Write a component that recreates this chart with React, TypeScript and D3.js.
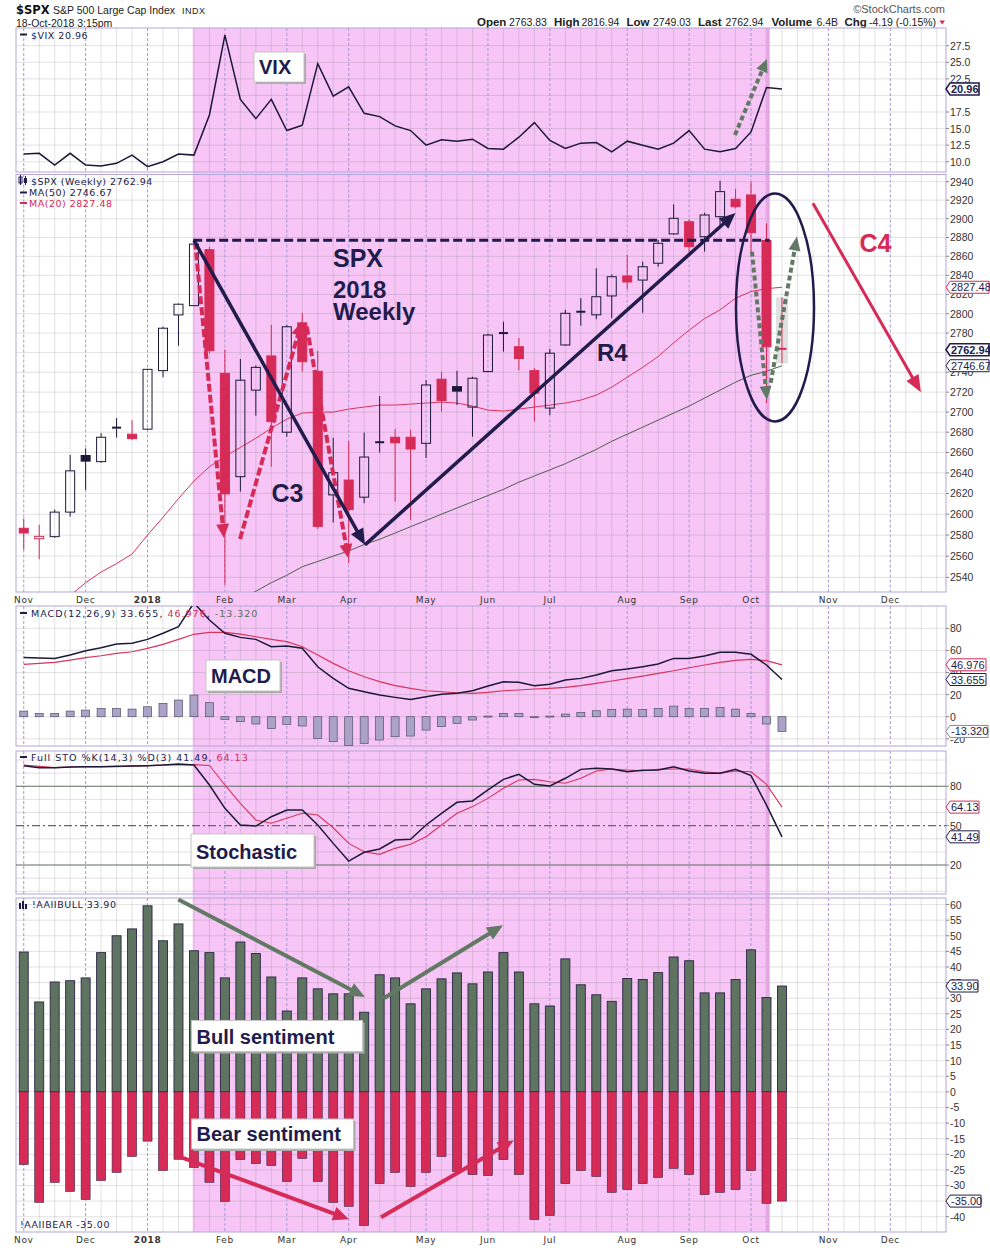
import React from 'react';
import * as d3 from 'd3';

// Weekly bars, week of Nov 6 2017 through week of Oct 15 2018 (50 weeks)
const spxOpen = [2586.5, 2576.5, 2578.5, 2602, 2657, 2651, 2684.5, 2678, 2683, 2741.7, 2798.7, 2808.3, 2867, 2739, 2636.3, 2722, 2756.6, 2680, 2790.5, 2741, 2618.6, 2633, 2616.4, 2669.5, 2675, 2675, 2669, 2733, 2725.5, 2705, 2740.7, 2780, 2766, 2741.7, 2704, 2767.8, 2802, 2798.8, 2818.4, 2839.3, 2835, 2852.7, 2883.8, 2896.8, 2880.8, 2902.2, 2921, 2925.6, 2876.8, 2763.83];
const spxHigh = [2596, 2590, 2604.5, 2657.6, 2664, 2679, 2694, 2692, 2743.5, 2786.6, 2810.5, 2873, 2870, 2763, 2753.5, 2747, 2788.5, 2788.5, 2801, 2761.8, 2674.5, 2671, 2679.5, 2716, 2683, 2682.6, 2732, 2740.7, 2741.4, 2735.5, 2779.5, 2791.8, 2775, 2744.4, 2763.8, 2804, 2816, 2847.4, 2841, 2861.4, 2854.4, 2877.3, 2915.5, 2899.5, 2906.4, 2940.8, 2932, 2939.9, 2895, 2816.94];
const spxLow = [2566, 2557, 2577.5, 2597.7, 2623.5, 2650, 2674.6, 2672, 2682.5, 2735, 2767, 2808, 2759, 2533, 2621.8, 2696.4, 2646, 2675.6, 2740.7, 2585.9, 2592, 2553.3, 2610.6, 2660, 2612, 2594.4, 2654.6, 2700.4, 2707, 2675.6, 2740, 2761, 2742, 2690.5, 2697, 2767, 2787.7, 2794.3, 2795.3, 2825.4, 2801, 2849, 2883, 2864.9, 2865, 2893.3, 2911, 2863.8, 2709, 2749.03];
const spxClose = [2582, 2578.8, 2602, 2642, 2651.5, 2675, 2683.3, 2673.6, 2743, 2785, 2809.8, 2872.9, 2762, 2619.6, 2732, 2745, 2690.5, 2786.5, 2750.8, 2588.3, 2640.2, 2604.5, 2655.5, 2670.1, 2669.5, 2663.4, 2727.2, 2711.5, 2721, 2734, 2778, 2779, 2754, 2719, 2759.4, 2800.4, 2801, 2817.6, 2838.5, 2833, 2849, 2873.8, 2900.5, 2870.2, 2904, 2929.2, 2913, 2885, 2766, 2762.94];
const spxPrevClose = 2587.8;
const ma50 = [2420, 2427, 2434, 2441, 2448, 2455, 2462, 2469, 2476, 2483, 2490, 2497, 2505, 2512, 2519, 2527, 2535, 2542, 2550, 2555, 2560, 2565, 2571, 2576, 2582, 2588, 2594, 2600, 2606, 2612, 2618, 2624, 2631, 2637, 2643, 2649, 2656, 2663, 2671, 2678, 2685, 2692, 2699, 2706, 2714, 2722, 2730, 2737, 2741, 2746.67];
const ma20 = [2495, 2505, 2515, 2523, 2535, 2545, 2553, 2562, 2580, 2597, 2615, 2632, 2646, 2656, 2665, 2674, 2684, 2693, 2699, 2700, 2700, 2703, 2705, 2707, 2707, 2708, 2709, 2710, 2709, 2706, 2702, 2701, 2703, 2705, 2707, 2709, 2712, 2717, 2725, 2735, 2745, 2756, 2770, 2783, 2795, 2804, 2816, 2823, 2826, 2827.48];
const vix = [11.16, 11.27, 9.5, 11.27, 9.5, 9.35, 9.76, 11.0, 9.25, 10.0, 11.16, 11.0, 17.05, 29.1, 19.4, 16.5, 19.4, 14.7, 15.5, 24.8, 19.9, 21.3, 17.3, 16.8, 15.4, 14.7, 12.5, 13.3, 13.1, 13.4, 12.0, 11.9, 13.7, 15.9, 13.2, 12.0, 12.8, 12.9, 11.5, 13.1, 12.5, 11.9, 12.8, 14.7, 11.9, 11.5, 12.0, 14.5, 21.2, 20.96];
const macdLine = [53.7, 53.1, 52.8, 55.8, 59.7, 62.5, 65.8, 66.4, 70, 75.5, 81.4, 103, 87.5, 75.5, 71.8, 70, 63.4, 64, 61.9, 45.2, 34.7, 25.7, 22.6, 19.6, 17.5, 15.7, 18.1, 20.3, 21.2, 23.5, 27.8, 31.7, 31.1, 28.1, 29.3, 33.2, 34.7, 37.7, 41.6, 43.2, 45.2, 47.7, 52.8, 52.8, 54.9, 58.3, 58.3, 56.5, 46.8, 33.655];
const macdSignal = [47.4, 48.3, 49.2, 51.3, 53.4, 55.2, 57.4, 58.8, 61.9, 65.5, 70, 74.6, 76.4, 76.4, 74.8, 72.4, 70, 67.9, 63.3, 55.8, 48.3, 41.6, 36.2, 31.7, 28.1, 25.7, 23.5, 22.6, 21.7, 21.2, 22.1, 23.5, 24.2, 25.1, 25.7, 26.6, 28.1, 30.2, 32.3, 34.4, 36.8, 39.3, 41.6, 44.3, 46.8, 49.2, 51, 51.9, 50.7, 46.976];
const macdHist = [5.1, 3.0, 3.0, 5.1, 6.0, 7.5, 7.5, 6.9, 9.0, 12.1, 15.1, 19.6, 12.7, -2.4, -4.5, -6.6, -10.6, -6.9, -8.4, -19.6, -22.6, -26.2, -24.1, -21.1, -18.1, -17.5, -12.1, -9.0, -6.0, -3.0, 0.6, 3.0, 3.0, -0.6, 0.6, 2.4, 3.9, 5.4, 6.6, 6.9, 6.6, 7.5, 9.6, 7.5, 7.5, 8.4, 6.9, 3.0, -6.6, -13.32];
const stoK = [95.7, 94.2, 94.2, 94.7, 94.9, 94.9, 95.2, 95.4, 95.7, 96.2, 97, 96.2, 81, 63.2, 50.5, 49.7, 56.8, 61.9, 61.9, 50.5, 36.5, 23, 29.7, 32.2, 39, 39.6, 50.5, 59.4, 67.8, 68.8, 77.2, 85.3, 89.1, 81.5, 80.2, 86.1, 92.9, 93.7, 93.2, 91.1, 92.2, 92.4, 94.9, 91.7, 89.9, 89.9, 92.9, 88.1, 65.7, 41.49];
const stoD = [96.2, 95.2, 94.2, 94.7, 94.9, 94.9, 94.9, 95.4, 95.7, 96.2, 96.2, 96.5, 95.9, 81, 67, 54.3, 51.8, 55.6, 59.4, 58.1, 48.4, 36.5, 30.1, 28.1, 32.7, 35.8, 41.6, 50.5, 59.4, 64.5, 70.8, 78.5, 84.8, 85.3, 83.5, 82.3, 86.1, 91.7, 93.2, 92.4, 91.9, 92.9, 93.2, 93.2, 91.1, 89.9, 91.7, 91.1, 81.5, 64.13];
const aaiiBull = [44.8, 28.8, 35.2, 35.6, 36.5, 44.6, 50, 52.2, 59.6, 48.4, 53.8, 45.2, 44.6, 36.5, 48, 44.3, 36.8, 25.9, 36.5, 33, 31.4, 31.4, 25.5, 37.5, 36.5, 28.2, 33, 36.2, 38.1, 34.6, 38.4, 44.6, 38.4, 28.2, 27.5, 42.6, 34.3, 31.1, 29, 36.3, 36, 38.2, 43.2, 42, 31.7, 31.7, 36, 45.5, 30.2, 33.9];
const aaiiBear = [-23.3, -35.4, -29, -31.9, -34.5, -28.4, -25.8, -20.7, -15.8, -25.2, -21.6, -24.2, -29, -35.1, -21.7, -23, -23.6, -28.7, -21.3, -28.7, -35.4, -36.7, -42.8, -29.4, -25.8, -30.3, -25.8, -20.7, -25.5, -26.5, -26.8, -21.7, -26.5, -40.9, -39.6, -29.4, -25.2, -27.1, -32.2, -31.3, -29.4, -27.4, -24.5, -26.5, -32.9, -32.2, -31.3, -25.2, -35.7, -35];
const monthWeeks = [0, 4, 8, 13, 17, 21, 26, 30, 34, 39, 43, 47, 52, 56];
const monthLabels = ['Nov', 'Dec', '2018', 'Feb', 'Mar', 'Apr', 'May', 'Jun', 'Jul', 'Aug', 'Sep', 'Oct', 'Nov', 'Dec'];
const vixTicks = [10, 12.5, 15, 17.5, 20, 22.5, 25, 27.5];
const spxTicks = d3.range(2540, 2941, 20);
const macdTicks = [-20, 0, 20, 40, 60, 80];
const stoTicks = [20, 50, 80];
const aaiiTicks = d3.range(-40, 61, 5);

const SANS = '"Liberation Sans", Arial, sans-serif';
const LEG = '"DejaVu Sans", Verdana, sans-serif';
const NAVY = '#221c4c';
const CRIMSON = '#d62a57';
const PINK = '#f7c6f6';
const GREEN = '#5e7461';
const ARROWGREEN = '#627a64';
const FRAME = '#b3a6d8';
const GRID = 'rgba(110,110,110,0.2)';
const L = 16;
const R = 946;

const x = d3.scaleLinear().domain([-0.5, 59.6]).range([L, R]);
const weeks = d3.range(spxClose.length);

const P = {
  vix: { top: 28, bottom: 172, y: d3.scaleLinear().domain([8.45, 30.17]).range([172, 28]) },
  spx: { top: 174.5, bottom: 592, y: d3.scaleLog().domain([2526.3, 2947.8]).range([592, 174.5]) },
  macd: { top: 606, bottom: 746, y: d3.scaleLinear().domain([-26.5, 100.2]).range([746, 606]) },
  sto: { top: 751, bottom: 894, y: d3.scaleLinear().domain([-2.1, 106.9]).range([894, 751]) },
  aaii: { top: 898, bottom: 1232, y: d3.scaleLinear().domain([-44.9, 62.1]).range([1232, 898]) },
};

function Arrow({ x1, y1, x2, y2, color, w = 4, dash, head = 15, hw = 13 }: any) {
  const dx = x2 - x1, dy = y2 - y1, len = Math.hypot(dx, dy);
  const ux = dx / len, uy = dy / len;
  const bx = x2 - ux * head, by = y2 - uy * head;
  const px = (-uy * hw) / 2, py = (ux * hw) / 2;
  return (
    <g>
      <line x1={x1} y1={y1} x2={bx + ux * 2} y2={by + uy * 2} stroke={color} strokeWidth={w} strokeDasharray={dash} />
      <polygon points={`${x2},${y2} ${bx + px},${by + py} ${bx - px},${by - py}`} fill={color} />
    </g>
  );
}

function NoteBox({ x0, y0, w, h, text, size = 20 }: any) {
  return (
    <g>
      <rect x={x0 + 2} y={y0 + 2} width={w} height={h} fill="#a9a9a9" />
      <rect x={x0} y={y0} width={w} height={h} fill="#fff" stroke="#c4c4c4" />
      <text x={x0 + 5} y={y0 + h - 8} fontSize={size} fontWeight="bold" fill={NAVY} fontFamily={SANS}>{text}</text>
    </g>
  );
}

function Tag({ y, text, color, bold, w }: any) {
  const r = 950 + w;
  return (
    <g>
      <path d={`M946,${y} L950,${y - 6} L${r},${y - 6} L${r},${y + 6} L950,${y + 6} Z`} fill="#fff" stroke={color} strokeWidth={bold ? 1.6 : 1} />
      <text x={951} y={y + 4} fontSize={11} fontWeight={bold ? 'bold' : 'normal'} fill={NAVY} fontFamily={SANS}>{text}</text>
    </g>
  );
}

function Grid({ p, hTicks }: any) {
  return (
    <g>
      {d3.range(0, 60).filter((i) => !monthWeeks.includes(i)).map((i) => (
        <line key={'v' + i} x1={x(i)} x2={x(i)} y1={p.top} y2={p.bottom} stroke={GRID} />
      ))}
      {hTicks.map((t: number) => (
        <line key={'h' + t} x1={L} x2={R} y1={p.y(t)} y2={p.y(t)} stroke={GRID} />
      ))}
      {monthWeeks.map((i) => (
        <line key={'m' + i} x1={x(i)} x2={x(i)} y1={p.top} y2={p.bottom} stroke="#a997d4" strokeDasharray="3,2" />
      ))}
    </g>
  );
}

function Axis({ p, ticks, fmt }: any) {
  return (
    <g fontSize={10.5} fill="#333" fontFamily={SANS}>
      {ticks.map((t: number) => (
        <g key={t}>
          <line x1={R} x2={R + 3} y1={p.y(t)} y2={p.y(t)} stroke="#888" />
          <text x={950} y={p.y(t) + 4}>{fmt(t)}</text>
        </g>
      ))}
    </g>
  );
}

export default function App() {
  const lineOf = (p: any, arr: number[]) =>
    d3.line<number>().x((_, i) => x(i)).y((d) => p.y(d))(arr) as string;
  const sy = P.spx.y;
  const panelList = Object.entries(P);

  return (
    <svg width={990} height={1248} style={{ position: 'absolute', left: 0, top: 0, background: '#fff' }} fontFamily={SANS}>
      <defs>
        {panelList.map(([k, p]) => (
          <clipPath id={'c-' + k} key={k}>
            <rect x={L} y={p.top} width={R - L} height={p.bottom - p.top} />
          </clipPath>
        ))}
      </defs>

      {/* header */}
      <text x={16} y={13.5} fontSize={11.5} fontWeight="bold" fontFamily={LEG} fill="#111">$SPX</text>
      <text x={53} y={13.5} fontSize={11} fill="#222" textLength={122} lengthAdjust="spacingAndGlyphs">S&amp;P 500 Large Cap Index</text>
      <text x={182} y={13.5} fontSize={9} fill="#222" letterSpacing={0.5}>INDX</text>
      <text x={16} y={26.5} fontSize={10.5} fill="#222">18-Oct-2018 3:15pm</text>
      <text x={945} y={12.5} fontSize={11} fill="#555" textAnchor="end">©StockCharts.com</text>
      <g fontSize={10.5} fill="#222">
        <text x={477} y={26} fontWeight="bold" fontSize={11.5}>Open</text>
        <text x={509} y={26}>2763.83</text>
        <text x={554} y={26} fontWeight="bold" fontSize={11.5}>High</text>
        <text x={581.5} y={26}>2816.94</text>
        <text x={626.5} y={26} fontWeight="bold" fontSize={11.5}>Low</text>
        <text x={653} y={26}>2749.03</text>
        <text x={698} y={26} fontWeight="bold" fontSize={11.5}>Last</text>
        <text x={725.5} y={26}>2762.94</text>
        <text x={771.5} y={26} fontWeight="bold" fontSize={11.5}>Volume</text>
        <text x={816.5} y={26}>6.4B</text>
        <text x={844.5} y={26} fontWeight="bold" fontSize={11.5}>Chg</text>
        <text x={869} y={26}>-4.19 (-0.15%)</text>
      </g>
      <polygon points="939.5,20.5 945,20.5 942.2,24.5" fill={CRIMSON} />

      {/* panel backgrounds and pink campaign band */}
      {panelList.map(([k, p]) => (
        <rect key={k} x={L} y={p.top} width={R - L} height={p.bottom - p.top} fill="#fff" />
      ))}
      <rect x={x(10.92)} y={28} width={x(48.2) - x(10.92)} height={1232 - 28} fill={PINK} />

      <Grid p={P.vix} hTicks={vixTicks} />
      <Grid p={P.spx} hTicks={spxTicks} />
      <Grid p={P.macd} hTicks={macdTicks} />
      <Grid p={P.sto} hTicks={d3.range(0, 101, 10).filter((t) => !stoTicks.includes(t))} />
      <Grid p={P.aaii} hTicks={aaiiTicks} />
      <rect x={x(48.2) - 4} y={28} width={4} height={1232 - 28} fill="#e4a9e4" />

      {panelList.map(([k, p]) => (
        <rect key={'f' + k} x={L} y={p.top} width={R - L} height={p.bottom - p.top} fill="none" stroke={FRAME} />
      ))}

      {/* VIX */}
      <g clipPath="url(#c-vix)">
        <path d={lineOf(P.vix, vix)} fill="none" stroke="#1c1838" strokeWidth={1.5} />
      </g>
      <Axis p={P.vix} ticks={vixTicks.filter((t) => t !== 20)} fmt={(t: number) => t.toFixed(1)} />
      <line x1={20} x2={27} y1={34.5} y2={34.5} stroke={NAVY} strokeWidth={2} />
      <text x={31} y={38.5} fontSize={9.5} fontFamily={LEG} letterSpacing={0.5} fill={NAVY}>$VIX 20.96</text>
      <NoteBox x0={254} y0={52} w={50} h={30} text="VIX" />
      <Arrow x1={x(45.96)} y1={P.vix.y(14.03)} x2={x(48.03)} y2={P.vix.y(25.5)} color={ARROWGREEN} w={4} dash="5,3" head={13} hw={12} />
      <Tag y={P.vix.y(20.96)} text="20.96" color={NAVY} bold w={29} />

      {/* SPX */}
      <g clipPath="url(#c-spx)">
        <path d={lineOf(P.spx, ma50)} fill="none" stroke="#4f5f50" strokeWidth={1} />
        <path d={lineOf(P.spx, ma20)} fill="none" stroke="#d8345c" strokeWidth={1} />
        <rect x={x(49) - 6} y={sy(spxHigh[49])} width={12} height={sy(spxLow[49]) - sy(spxHigh[49])} fill="#e1e1e1" />
        {weeks.map((i) => {
          const o = spxOpen[i], c = spxClose[i];
          const prev = i === 0 ? spxPrevClose : spxClose[i - 1];
          const col = c < prev ? CRIMSON : '#1b1838';
          const filled = c < o;
          const yt = sy(Math.max(o, c)), yb = sy(Math.min(o, c));
          const cx = x(i);
          const bh = yb - yt;
          return (
            <g key={i}>
              <line x1={cx} x2={cx} y1={sy(spxHigh[i])} y2={yt} stroke={col} strokeWidth={1} />
              <line x1={cx} x2={cx} y1={yb} y2={sy(spxLow[i])} stroke={col} strokeWidth={1} />
              {bh < 1.5 ? (
                <line x1={cx - 4.5} x2={cx + 4.5} y1={yt} y2={yt} stroke={col} strokeWidth={2} />
              ) : (
                <rect x={cx - 4.5} y={yt} width={9} height={bh} fill={filled ? col : 'none'} stroke={col} strokeWidth={1} />
              )}
            </g>
          );
        })}
      </g>
      <Axis p={P.spx} ticks={spxTicks.filter((t) => t !== 2760)} fmt={(t: number) => String(t)} />
      <g fontFamily={LEG} fontSize={9.5} letterSpacing={0.5}>
        <rect x={19} y={177} width={3} height={6} fill="none" stroke={NAVY} />
        <line x1={20.5} x2={20.5} y1={175} y2={185} stroke={NAVY} />
        <rect x={24} y={178} width={3} height={5} fill={NAVY} />
        <line x1={25.5} x2={25.5} y1={176} y2={185} stroke={NAVY} />
        <text x={31} y={185} fill={NAVY}>$SPX (Weekly) 2762.94</text>
        <line x1={20} x2={27} y1={192.5} y2={192.5} stroke={NAVY} strokeWidth={2} />
        <text x={29} y={196} fill={NAVY}>MA(50) 2746.67</text>
        <line x1={20} x2={27} y1={203} y2={203} stroke={CRIMSON} strokeWidth={2} />
        <text x={29} y={206.7} fill={CRIMSON}>MA(20) 2827.48</text>
      </g>

      {/* SPX annotations */}
      <line x1={x(10.95)} x2={x(48.2)} y1={sy(2877)} y2={sy(2877)} stroke={NAVY} strokeWidth={3} strokeDasharray="9,4" />
      <Arrow x1={x(11.07)} y1={sy(2875.7)} x2={x(12.94)} y2={sy(2577.2)} color={CRIMSON} w={4} dash="8,3" head={14} hw={13} />
      <Arrow x1={x(13.98)} y1={sy(2576.2)} x2={x(17.96)} y2={sy(2791.8)} color={CRIMSON} w={4} dash="8,3" head={14} hw={13} />
      <Arrow x1={x(18.29)} y1={sy(2786.6)} x2={x(20.98)} y2={sy(2558)} color={CRIMSON} w={4} dash="8,3" head={14} hw={13} />
      <Arrow x1={x(11.0)} y1={sy(2877)} x2={x(22.05)} y2={sy(2570.7)} color={NAVY} w={3.5} head={16} hw={14} />
      <Arrow x1={x(22.05)} y1={sy(2570.7)} x2={x(46.0)} y2={sy(2906.2)} color={NAVY} w={3.5} head={16} hw={14} />
      <g fontWeight="bold" fill={NAVY} fontSize={25}>
        <text x={333} y={266.5}>SPX</text>
        <text x={333} y={297.5} fontSize={24}>2018</text>
        <text x={333} y={320} fontSize={24}>Weekly</text>
        <text x={271.5} y={501.7}>C3</text>
        <text x={597} y={360.7} fontSize={24}>R4</text>
      </g>
      <text x={859.5} y={251.7} fontWeight="bold" fontSize={25} fill={CRIMSON}>C4</text>
      <ellipse cx={x(48.55)} cy={sy(2806.5)} rx={39} ry={114} fill="none" stroke={NAVY} strokeWidth={2.5} />
      <Arrow x1={x(47.06)} y1={sy(2864.9)} x2={x(48.03)} y2={sy(2712.1)} color={ARROWGREEN} w={4} dash="5,3" head={14} hw={12} />
      <Arrow x1={x(48.27)} y1={sy(2729.3)} x2={x(49.97)} y2={sy(2880.9)} color={ARROWGREEN} w={4} dash="5,3" head={14} hw={12} />
      <Arrow x1={x(51.0)} y1={sy(2916.6)} x2={x(57.98)} y2={sy(2719.8)} color={CRIMSON} w={3} head={17} hw={14} />
      <Tag y={sy(2827.48)} text="2827.48" color={CRIMSON} w={39} />
      <Tag y={sy(2762.94)} text="2762.94" color={NAVY} bold w={39} />
      <Tag y={sy(2746.67)} text="2746.67" color={NAVY} w={39} />

      {/* date rows */}
      {[603, 1243].map((yy) => (
        <g key={yy} fontFamily={LEG} fontSize={9} letterSpacing={0.6} fill="#333" textAnchor="middle">
          {monthWeeks.map((w, k) => (
            <text key={k} x={x(w)} y={yy} fontWeight={monthLabels[k] === '2018' ? 'bold' : 'normal'}>{monthLabels[k]}</text>
          ))}
        </g>
      ))}

      {/* MACD */}
      <g clipPath="url(#c-macd)">
        {weeks.map((i) => {
          const v = macdHist[i];
          const y0 = P.macd.y(0), y1 = P.macd.y(v);
          return <rect key={i} x={x(i) - 4} y={Math.min(y0, y1)} width={8} height={Math.max(1, Math.abs(y1 - y0))} fill="#aaa3c7" stroke="#55506a" strokeWidth={0.7} />;
        })}
        <path d={lineOf(P.macd, macdSignal)} fill="none" stroke="#d8345c" strokeWidth={1.2} />
        <path d={lineOf(P.macd, macdLine)} fill="none" stroke="#1c1838" strokeWidth={1.5} />
      </g>
      <Axis p={P.macd} ticks={macdTicks} fmt={(t: number) => String(t)} />
      <line x1={20} x2={27} y1={613} y2={613} stroke={NAVY} strokeWidth={2} />
      <text x={31} y={616.7} fontSize={9.5} fontFamily={LEG} letterSpacing={1} fill={NAVY}>
        MACD(12,26,9) 33.655, <tspan fill={CRIMSON}>46.976</tspan>, <tspan fill="#56705a">-13.320</tspan>
      </text>
      <NoteBox x0={206} y0={660} w={74} h={31} text="MACD" />
      <Tag y={P.macd.y(46.976)} text="46.976" color={CRIMSON} w={36} />
      <Tag y={P.macd.y(33.655)} text="33.655" color={NAVY} w={36} />
      <Tag y={P.macd.y(-13.32)} text="-13.320" color="#888" w={38} />

      {/* Stochastic */}
      {[20, 80].map((t) => (
        <line key={t} x1={L} x2={R} y1={P.sto.y(t)} y2={P.sto.y(t)} stroke="#5d6d5f" strokeWidth={1.1} />
      ))}
      <line x1={L} x2={R} y1={P.sto.y(50)} y2={P.sto.y(50)} stroke="#5d6d5f" strokeWidth={1.1} strokeDasharray="8,3,2,3" />
      <g clipPath="url(#c-sto)">
        <path d={lineOf(P.sto, stoD)} fill="none" stroke="#d8345c" strokeWidth={1.1} />
        <path d={lineOf(P.sto, stoK)} fill="none" stroke="#1c1838" strokeWidth={1.5} />
      </g>
      <Axis p={P.sto} ticks={stoTicks} fmt={(t: number) => String(t)} />
      <line x1={20} x2={27} y1={757} y2={757} stroke={NAVY} strokeWidth={2} />
      <text x={31} y={760.5} fontSize={9.5} fontFamily={LEG} letterSpacing={1} fill={NAVY}>
        Full STO %K(14,3) %D(3) 41.49, <tspan fill={CRIMSON}>64.13</tspan>
      </text>
      <NoteBox x0={191} y0={834} w={123} h={33} text="Stochastic" />
      <Tag y={P.sto.y(64.13)} text="64.13" color={CRIMSON} w={29} />
      <Tag y={P.sto.y(41.49)} text="41.49" color={NAVY} w={29} />

      {/* AAII sentiment */}
      <g clipPath="url(#c-aaii)">
        {weeks.map((i) => {
          const y0 = P.aaii.y(0);
          return (
            <g key={i}>
              <rect x={x(i) - 4.5} y={P.aaii.y(aaiiBull[i])} width={9} height={y0 - P.aaii.y(aaiiBull[i])} fill={GREEN} stroke="#2a2448" strokeWidth={0.9} />
              <rect x={x(i) - 4.5} y={y0} width={9} height={P.aaii.y(aaiiBear[i]) - y0} fill={CRIMSON} stroke="#3a2448" strokeWidth={0.6} />
            </g>
          );
        })}
      </g>
      <Axis p={P.aaii} ticks={aaiiTicks.filter((t) => t !== -35)} fmt={(t: number) => String(t)} />
      <g fill={NAVY}>
        <rect x={19} y={903} width={2} height={6} />
        <rect x={22} y={901} width={2} height={8} />
        <rect x={25} y={904} width={2} height={5} />
      </g>
      <text x={32} y={908.3} fontSize={9.5} fontFamily={LEG} letterSpacing={0.5} fill={NAVY}>!AAIIBULL 33.90</text>
      <text x={20} y={1228.3} fontSize={9.5} fontFamily={LEG} letterSpacing={0.5} fill={NAVY}>!AAIIBEAR -35.00</text>
      <Arrow x1={x(9.99)} y1={P.aaii.y(61.6)} x2={x(22.05)} y2={P.aaii.y(30.4)} color={ARROWGREEN} w={4} head={16} hw={14} />
      <Arrow x1={x(23.24)} y1={P.aaii.y(29.9)} x2={x(30.97)} y2={P.aaii.y(53.4)} color={ARROWGREEN} w={4} head={16} hw={14} />
      <Arrow x1={x(10.1)} y1={P.aaii.y(-20.8)} x2={x(21.02)} y2={P.aaii.y(-40.8)} color={CRIMSON} w={4} head={16} hw={14} />
      <Arrow x1={x(23.09)} y1={P.aaii.y(-40.2)} x2={x(31.68)} y2={P.aaii.y(-15.5)} color={CRIMSON} w={4} head={16} hw={14} />
      <NoteBox x0={191.5} y0={1020.5} w={171} h={31} text="Bull sentiment" />
      <NoteBox x0={191.5} y0={1119} w={162} h={30} text="Bear sentiment" />
      <Tag y={P.aaii.y(33.9)} text="33.90" color={NAVY} w={28} />
      <Tag y={P.aaii.y(-35)} text="-35.00" color={NAVY} w={31} />
    </svg>
  );
}
